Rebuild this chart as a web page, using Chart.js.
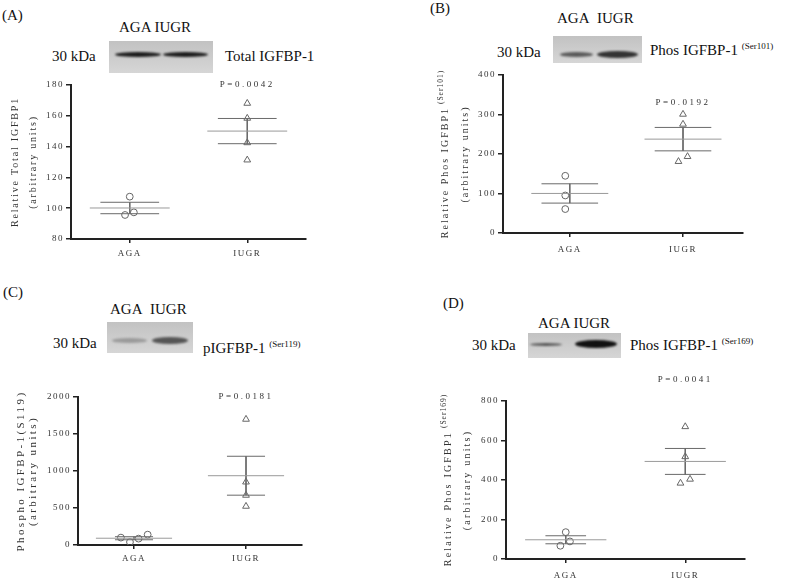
<!DOCTYPE html>
<html>
<head>
<meta charset="utf-8">
<script src="https://cdn.jsdelivr.net/npm/chart.js@4.4.1/dist/chart.umd.min.js"></script>
<style>
body { margin: 0; background: #fff; width: 793px; height: 578px; position: relative; overflow: hidden;
       font-family: "Liberation Serif", "Times New Roman", serif; color: #111; }
.lbl { position: absolute; font-size: 15px; line-height: 16px; white-space: nowrap; }
.lbl sup { font-size: 9px; vertical-align: 0; position: relative; top: -6px; }
.blot { position: absolute; background: linear-gradient(#c2c2c2, #d6d6d6); }
.band { position: absolute; border-radius: 50%; filter: blur(1px); }
canvas { position: absolute; }
</style>
</head>
<body>

<!-- (A) -->
<div class="lbl" style="left:2px;top:7px">(A)</div>
<div class="lbl" style="left:119px;top:19px">AGA IUGR</div>
<div class="lbl" style="left:52px;top:48px">30 kDa</div>
<div class="blot" style="left:109px;top:41px;width:104px;height:32px">
  <div class="band" style="left:6px;top:11px;width:46px;height:5px;background:#1c1c1c"></div>
  <div class="band" style="left:54px;top:11px;width:45px;height:5px;background:#1c1c1c"></div>
</div>
<div class="lbl" style="left:225px;top:48px">Total IGFBP-1</div>

<!-- (B) -->
<div class="lbl" style="left:430px;top:0px">(B)</div>
<div class="lbl" style="left:557px;top:10px">AGA&nbsp; IUGR</div>
<div class="lbl" style="left:497px;top:44px">30 kDa</div>
<div class="blot" style="left:553px;top:36px;width:89px;height:27px">
  <div class="band" style="left:7px;top:16px;width:33px;height:5px;background:#5a5a5a"></div>
  <div class="band" style="left:44px;top:15px;width:41px;height:7px;background:#333"></div>
</div>
<div class="lbl" style="left:650px;top:42px">Phos IGFBP-1 <sup>(Ser101)</sup></div>

<!-- (C) -->
<div class="lbl" style="left:3px;top:284px">(C)</div>
<div class="lbl" style="left:110px;top:301px">AGA&nbsp; IUGR</div>
<div class="lbl" style="left:53px;top:335px">30 kDa</div>
<div class="blot" style="left:107px;top:322px;width:86px;height:31px">
  <div class="band" style="left:5px;top:16px;width:35px;height:5px;background:#9a9a9a"></div>
  <div class="band" style="left:45px;top:15px;width:36px;height:7px;background:#555"></div>
</div>
<div class="lbl" style="left:203px;top:340px">pIGFBP-1 <sup>(Ser119)</sup></div>

<!-- (D) -->
<div class="lbl" style="left:443px;top:295px">(D)</div>
<div class="lbl" style="left:538px;top:315px">AGA IUGR</div>
<div class="lbl" style="left:472px;top:337px">30 kDa</div>
<div class="blot" style="left:528px;top:333px;width:93px;height:25px">
  <div class="band" style="left:2px;top:10px;width:32px;height:3px;background:#555"></div>
  <div class="band" style="left:47px;top:7px;width:42px;height:8px;background:#111"></div>
</div>
<div class="lbl" style="left:630px;top:337px">Phos IGFBP-1 <sup>(Ser169)</sup></div>

<canvas id="chartA" width="320" height="200" style="left:0px;top:70px"></canvas>
<canvas id="chartB" width="340" height="210" style="left:420px;top:60px"></canvas>
<canvas id="chartC" width="320" height="200" style="left:0px;top:370px"></canvas>
<canvas id="chartD" width="340" height="213" style="left:420px;top:365px"></canvas>

<script>
const groups = ['AGA', 'IUGR'];

// (A) total IGFBP-1
const totalAga = [107.5, 95.6, 97.3];
const totalIugr = [168.1, 158.4, 142.5, 131.3];
const totalTicks = [80, 100, 120, 140, 160, 180];

// (B) phospho Ser101
const ser101Aga = [144.8, 95.0, 60.6];
const ser101Iugr = [300.6, 275.4, 193.5, 181.0];
const ser101Ticks = [0, 100, 200, 300, 400];

// (C) phospho Ser119
const ser119Aga = [100, 40, 86, 140];
const ser119Iugr = [1699, 851, 672, 523];
const ser119Ticks = [0, 500, 1000, 1500, 2000];

// (D) phospho Ser169
const ser169Aga = [136, 89, 67];
const ser169Iugr = [670, 518, 404, 384];
const ser169Ticks = [0, 200, 400, 600, 800];

const pValues = ['P=0.0042', 'P=0.0192', 'P=0.0181', 'P=0.0041'];

// horizontal scatter of the points around each group (x units)
const jitterA = [[0, -0.04, 0.035], [0, 0, 0, 0]];
const jitterB = [[-0.04, -0.04, -0.04], [0, 0, 0.04, -0.04]];
const jitterC = [[-0.117, -0.036, 0.041, 0.122], [0, 0, 0, 0]];
const jitterD = [[0, 0.035, -0.045], [0, 0, 0.04, -0.04]];

Chart.defaults.font.family = '"Liberation Serif", "Times New Roman", serif';

function mean(a) { return a.reduce((s, v) => s + v, 0) / a.length; }
function sem(a) {
  const m = mean(a);
  const sd = Math.sqrt(a.reduce((s, v) => s + (v - m) * (v - m), 0) / (a.length - 1));
  return sd / Math.sqrt(a.length);
}

// plot text: p value above IUGR and the rotated y title (with superscript)
function makeDecor(p) {
  return {
    id: 'decor',
    beforeDraw(chart) { chart.ctx.letterSpacing = '1.5px'; },
    afterDraw(chart) {
      const { ctx, chartArea, scales } = chart;
      ctx.save();
      ctx.fillStyle = '#333';
      ctx.textBaseline = 'middle';
      ctx.letterSpacing = '2.5px';
      ctx.font = '9px "Liberation Serif"';
      ctx.textAlign = 'center';
      ctx.fillText(p.pText, scales.x.getPixelForValue(2), scales.y.getPixelForValue(p.pAt));

      const cy = (chartArea.top + chartArea.bottom) / 2;
      p.title.forEach((line, i) => {
        ctx.save();
        ctx.translate(chartArea.left + p.titleX[i], cy);
        ctx.rotate(-Math.PI / 2);
        ctx.textAlign = 'left';
        ctx.letterSpacing = p.titleSpacing + 'px';
        ctx.font = p.titleSize + 'px "Liberation Serif"';
        const w1 = ctx.measureText(line[0]).width;
        let w2 = 0;
        if (line[1]) {
          ctx.font = '7.5px "Liberation Serif"';
          ctx.letterSpacing = '1px';
          w2 = ctx.measureText(line[1]).width + 3;
        }
        const x0 = -(w1 + w2) / 2;
        ctx.font = p.titleSize + 'px "Liberation Serif"';
        ctx.letterSpacing = p.titleSpacing + 'px';
        ctx.fillText(line[0], x0, 0);
        if (line[1]) {
          ctx.font = '7.5px "Liberation Serif"';
          ctx.letterSpacing = '1px';
          ctx.fillText(line[1], x0 + w1 + 3, -4);
        }
        ctx.restore();
      });
      ctx.restore();
    }
  };
}

function makePanel(id, aga, iugr, jit, ticks, p) {
  const m = [mean(aga), mean(iugr)];
  const e = [sem(aga), sem(iugr)];
  const hw = 0.34, cw = p.capW;

  const meanData = [];
  const semData = [];
  m.forEach((v, i) => {
    const x = i + 1;
    meanData.push({ x: x - hw, y: v }, { x: x + hw, y: v }, { x: x + 0.5, y: null });
    semData.push(
      { x: x - cw, y: v + e[i] }, { x: x + cw, y: v + e[i] }, { x: x, y: null },
      { x: x, y: v + e[i] }, { x: x, y: v - e[i] }, { x: x, y: null },
      { x: x - cw, y: v - e[i] }, { x: x + cw, y: v - e[i] }, { x: x + 0.5, y: null }
    );
  });

  const tickFont = { size: 9 };
  new Chart(document.getElementById(id), {
    type: 'scatter',
    data: {
      datasets: [
        { data: meanData, showLine: true, borderColor: '#9a9a9a', borderWidth: 1, pointRadius: 0, spanGaps: false },
        { data: semData, showLine: true, borderColor: '#6a6a6a', borderWidth: 1, pointRadius: 0, spanGaps: false },
        {
          data: aga.map((v, i) => ({ x: 1 + jit[0][i], y: v })),
          pointStyle: 'circle', pointRadius: 3.4, borderColor: '#666', borderWidth: 1,
          backgroundColor: 'rgba(0,0,0,0)'
        },
        {
          data: iugr.map((v, i) => ({ x: 2 + jit[1][i], y: v })),
          pointStyle: 'triangle', pointRadius: 3.9, borderColor: '#666', borderWidth: 1,
          backgroundColor: 'rgba(0,0,0,0)'
        }
      ]
    },
    options: {
      responsive: false,
      animation: false,
      events: [],
      layout: { padding: { left: 0, top: p.padTop, right: p.padRight, bottom: 0 } },
      plugins: { legend: { display: false }, tooltip: { enabled: false } },
      scales: {
        x: {
          type: 'linear', min: p.xMin, max: p.xMax,
          afterBuildTicks: s => { s.ticks = groups.map((g, i) => ({ value: i + 1 })); },
          afterFit: s => { s.height = p.xH; },
          ticks: { callback: v => groups[v - 1], font: tickFont, color: '#333', padding: p.xPad,
                   maxRotation: 0, autoSkip: false },
          grid: { drawOnChartArea: false, drawTicks: true, tickLength: 4, color: '#222', lineWidth: 1.5 },
          border: { display: true, color: '#222', width: 2 }
        },
        y: {
          min: ticks[0], max: ticks[ticks.length - 1],
          afterBuildTicks: s => { s.ticks = ticks.map(v => ({ value: v })); },
          afterFit: s => { s.width = p.yW; },
          ticks: { callback: v => String(v), font: tickFont, color: '#333', padding: 2, autoSkip: false },
          grid: { drawOnChartArea: false, drawTicks: true, tickLength: 5, color: '#222', lineWidth: 1.5 },
          border: { display: true, color: '#222', width: 2 }
        }
      }
    },
    plugins: [makeDecor(p)]
  });
}

makePanel('chartA', totalAga, totalIugr, jitterA, totalTicks, {
  xMin: 0.5, xMax: 2.5, yW: 71, xH: 31, xPad: 5, padTop: 15, padRight: 14, capW: 0.25,
  pText: pValues[0], pAt: 180,
  title: [['Relative Total IGFBP1'], ['(arbitrary units)']], titleX: [-56, -38], titleSize: 10, titleSpacing: 1.8
});

makePanel('chartB', ser101Aga, ser101Iugr, jitterB, ser101Ticks, {
  xMin: 0.41, xMax: 2.53, yW: 83, xH: 37, xPad: 7, padTop: 15, padRight: 17, capW: 0.25,
  pText: pValues[1], pAt: 330,
  title: [['Relative Phos IGFBP1', '(Ser101)'], ['(arbitrary units)']], titleX: [-58, -38], titleSize: 10, titleSpacing: 2
});

makePanel('chartC', ser119Aga, ser119Iugr, jitterC, ser119Ticks, {
  xMin: 0.5, xMax: 2.5, yW: 78, xH: 25, xPad: 4, padTop: 27, padRight: 18, capW: 0.17,
  pText: pValues[2], pAt: 2000,
  title: [['Phospho IGFBP-1(S119)'], ['(arbitrary units)']], titleX: [-57, -45], titleSize: 11, titleSpacing: 2.4
});

makePanel('chartD', ser169Aga, ser169Iugr, jitterD, ser169Ticks, {
  xMin: 0.5, xMax: 2.5, yW: 86, xH: 19, xPad: 7, padTop: 36, padRight: 15, capW: 0.17,
  pText: pValues[3], pAt: 910,
  title: [['Relative Phos IGFBP1', '(Ser169)'], ['(arbitrary units)']], titleX: [-58, -39], titleSize: 10, titleSpacing: 2.2
});
</script>
</body>
</html>
